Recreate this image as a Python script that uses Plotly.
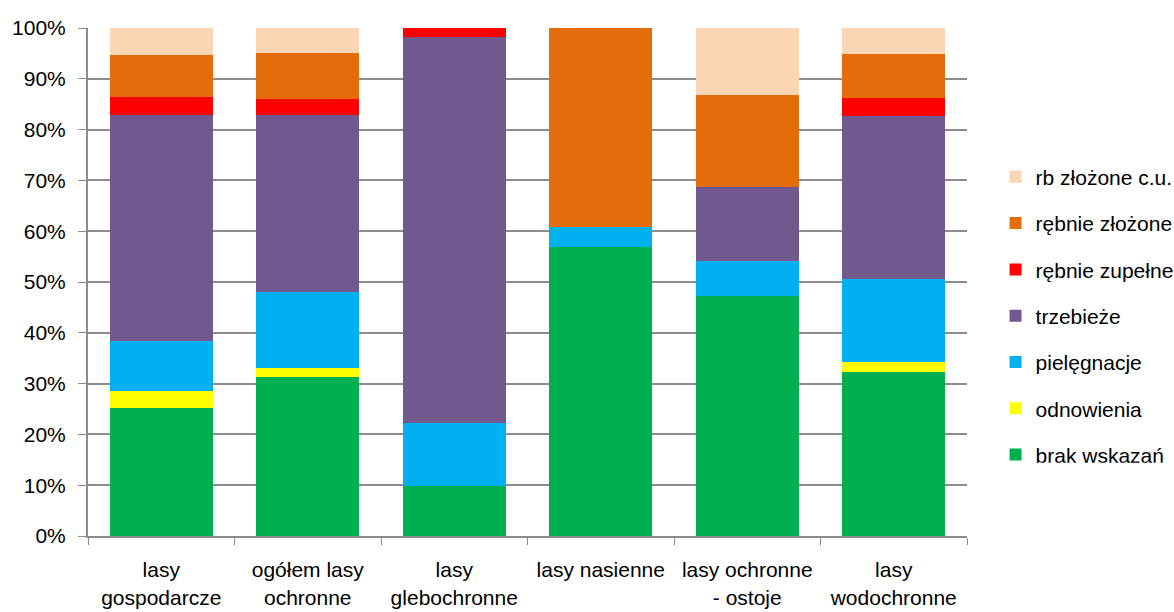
import plotly.graph_objects as go

categories = [
    "lasy<br>gospodarcze",
    "ogółem lasy<br>ochronne",
    "lasy<br>glebochronne",
    "lasy nasienne",
    "lasy ochronne<br>- ostoje",
    "lasy<br>wodochronne",
]

# Shares (%) of each treatment in the stand categories, bottom to top
brak_wskazan = [25.2, 31.3, 9.9, 56.8, 47.3, 32.2]
odnowienia = [3.4, 1.7, 0.0, 0.0, 0.0, 2.0]
pielegnacje = [9.7, 15.0, 12.4, 4.0, 6.9, 16.3]
trzebieze = [44.6, 34.9, 76.0, 0.0, 14.5, 32.1]
rebnie_zupelne = [3.6, 3.1, 1.7, 0.0, 0.0, 3.6]
rebnie_zlozone = [8.1, 9.1, 0.0, 39.2, 18.2, 8.7]
rb_zlozone_cu = [5.4, 4.9, 0.0, 0.0, 13.1, 5.1]

y_ticks = [0, 10, 20, 30, 40, 50, 60, 70, 80, 90, 100]
y_tick_labels = [f"{v}%" for v in y_ticks]

series = [
    ("brak wskazań", brak_wskazan, "#00B050"),
    ("odnowienia", odnowienia, "#FFFF00"),
    ("pielęgnacje", pielegnacje, "#00B0F0"),
    ("trzebieże", trzebieze, "#71588F"),
    ("rębnie zupełne", rebnie_zupelne, "#FF0000"),
    ("rębnie złożone", rebnie_zlozone, "#E46C0A"),
    ("rb złożone c.u.", rb_zlozone_cu, "#FCD5B5"),
]

FONT = "Liberation Sans, Arial, sans-serif"

fig = go.Figure()
n = len(series)
for i, (name, values, color) in enumerate(series):
    fig.add_trace(go.Bar(
        x=categories,
        y=values,
        name=name,
        legendgroup=name,
        legendrank=n - i,
        marker=dict(color=color, line=dict(width=0)),
    ))

fig.update_layout(
    barmode="stack",
    bargap=0.3,
    width=1174,
    height=612,
    margin=dict(l=88, r=207, t=28, b=76, autoexpand=False),
    paper_bgcolor="white",
    plot_bgcolor="white",
    font=dict(family=FONT, size=21, color="#000000"),
    showlegend=True,
    legend=dict(
        traceorder="grouped",
        tracegroupgap=16,
        xref="container",
        yref="container",
        x=0.848,
        xanchor="left",
        y=0.494,
        yanchor="middle",
        font=dict(family=FONT, size=21, color="#000000"),
        bgcolor="rgba(0,0,0,0)",
    ),
    xaxis=dict(
        automargin=False,
        showline=True,
        linecolor="#8C8C8C",
        linewidth=2,
        ticks="outside",
        tickson="boundaries",
        ticklen=7,
        tickcolor="#8C8C8C",
        tickwidth=1,
        ticklabelstandoff=14,
        tickfont=dict(family=FONT, size=21, color="#000000"),
        showgrid=False,
    ),
    yaxis=dict(
        automargin=False,
        range=[0, 100],
        tickvals=y_ticks,
        ticktext=y_tick_labels,
        showline=True,
        linecolor="#8C8C8C",
        linewidth=2,
        ticks="outside",
        ticklen=8,
        tickcolor="#8C8C8C",
        tickwidth=1,
        ticklabelstandoff=8,
        showgrid=True,
        gridcolor="#8C8C8C",
        gridwidth=2,
        tickfont=dict(family=FONT, size=21, color="#000000"),
        zeroline=False,
    ),
)

fig.write_html("out.html")
